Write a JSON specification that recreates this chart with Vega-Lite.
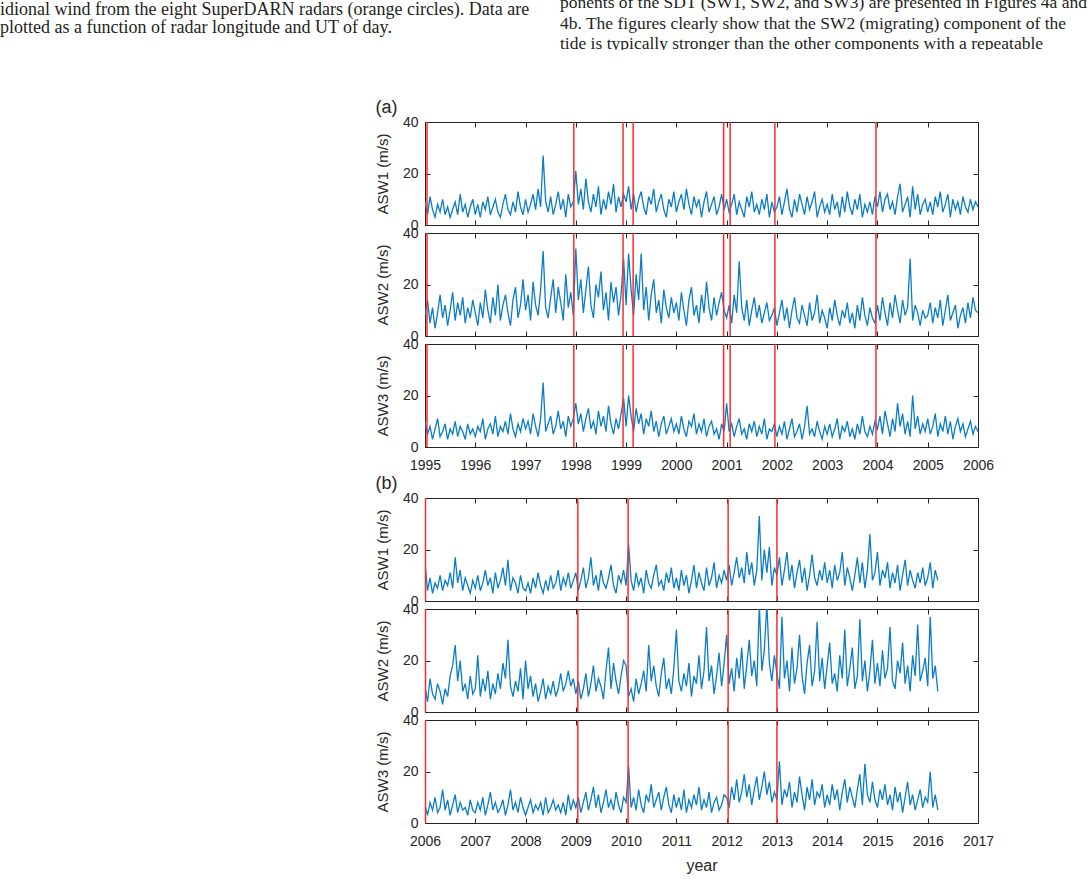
{"$schema":"https://vega.github.io/schema/vega-lite/v6.json","background":"white","padding":0,
"datasets":{
"RA":[{"t":1995.04},{"t":1997.96},{"t":1998.94},{"t":1999.14},{"t":2000.94},{"t":2001.07},{"t":2001.96},{"t":2003.97}],
"RB":[{"t":2006.01},{"t":2009.04},{"t":2010.04},{"t":2012.03},{"t":2013.0}],
"A":[
{"t":1995,"s1":9,"s2":8,"s3":10},{"t":1995.05,"s1":4,"s2":14,"s3":5},{"t":1995.1,"s1":11,"s2":5,"s3":8},{"t":1995.15,"s1":6,"s2":11,"s3":3},{"t":1995.2,"s1":3,"s2":3,"s3":7},{"t":1995.25,"s1":8,"s2":9,"s3":11},{"t":1995.3,"s1":5,"s2":16,"s3":4},{"t":1995.35,"s1":10,"s2":7,"s3":6},{"t":1995.4,"s1":4,"s2":12,"s3":9},{"t":1995.45,"s1":7,"s2":4,"s3":3},{"t":1995.5,"s1":3,"s2":10,"s3":7},{"t":1995.55,"s1":6,"s2":17,"s3":5},{"t":1995.6,"s1":9,"s2":6,"s3":10},{"t":1995.65,"s1":4,"s2":13,"s3":4},{"t":1995.7,"s1":12,"s2":8,"s3":8},{"t":1995.75,"s1":5,"s2":15,"s3":6},{"t":1995.8,"s1":8,"s2":5,"s3":3},{"t":1995.85,"s1":3,"s2":11,"s3":9},{"t":1995.9,"s1":7,"s2":7,"s3":5},{"t":1995.95,"s1":10,"s2":14,"s3":7},
{"t":1996,"s1":4,"s2":9,"s3":4},{"t":1996.05,"s1":8,"s2":4,"s3":8},{"t":1996.1,"s1":3,"s2":13,"s3":6},{"t":1996.15,"s1":9,"s2":7,"s3":11},{"t":1996.2,"s1":6,"s2":18,"s3":3},{"t":1996.25,"s1":11,"s2":10,"s3":7},{"t":1996.3,"s1":4,"s2":5,"s3":9},{"t":1996.35,"s1":7,"s2":15,"s3":5},{"t":1996.4,"s1":10,"s2":8,"s3":12},{"t":1996.45,"s1":5,"s2":20,"s3":4},{"t":1996.5,"s1":3,"s2":6,"s3":8},{"t":1996.55,"s1":8,"s2":12,"s3":6},{"t":1996.6,"s1":12,"s2":16,"s3":10},{"t":1996.65,"s1":6,"s2":9,"s3":5},{"t":1996.7,"s1":4,"s2":4,"s3":13},{"t":1996.75,"s1":9,"s2":14,"s3":7},{"t":1996.8,"s1":5,"s2":19,"s3":4},{"t":1996.85,"s1":13,"s2":7,"s3":9},{"t":1996.9,"s1":7,"s2":12,"s3":6},{"t":1996.95,"s1":4,"s2":22,"s3":11},
{"t":1997,"s1":10,"s2":10,"s3":7},{"t":1997.05,"s1":5,"s2":16,"s3":10},{"t":1997.1,"s1":8,"s2":6,"s3":5},{"t":1997.15,"s1":12,"s2":21,"s3":13},{"t":1997.2,"s1":6,"s2":12,"s3":8},{"t":1997.25,"s1":14,"s2":8,"s3":4},{"t":1997.3,"s1":7,"s2":18,"s3":11},{"t":1997.35,"s1":27,"s2":33,"s3":25},{"t":1997.4,"s1":9,"s2":11,"s3":6},{"t":1997.45,"s1":5,"s2":7,"s3":9},{"t":1997.5,"s1":11,"s2":15,"s3":12},{"t":1997.55,"s1":4,"s2":22,"s3":5},{"t":1997.6,"s1":8,"s2":9,"s3":8},{"t":1997.65,"s1":13,"s2":19,"s3":14},{"t":1997.7,"s1":6,"s2":13,"s3":7},{"t":1997.75,"s1":10,"s2":6,"s3":10},{"t":1997.8,"s1":3,"s2":24,"s3":4},{"t":1997.85,"s1":12,"s2":11,"s3":12},{"t":1997.9,"s1":7,"s2":17,"s3":8},{"t":1997.95,"s1":9,"s2":8,"s3":11},
{"t":1998,"s1":21,"s2":34,"s3":17},{"t":1998.05,"s1":8,"s2":14,"s3":9},{"t":1998.1,"s1":14,"s2":22,"s3":13},{"t":1998.15,"s1":6,"s2":9,"s3":6},{"t":1998.2,"s1":18,"s2":18,"s3":11},{"t":1998.25,"s1":9,"s2":27,"s3":15},{"t":1998.3,"s1":5,"s2":12,"s3":7},{"t":1998.35,"s1":12,"s2":7,"s3":10},{"t":1998.4,"s1":7,"s2":20,"s3":5},{"t":1998.45,"s1":15,"s2":15,"s3":14},{"t":1998.5,"s1":4,"s2":25,"s3":8},{"t":1998.55,"s1":10,"s2":10,"s3":12},{"t":1998.6,"s1":6,"s2":17,"s3":6},{"t":1998.65,"s1":13,"s2":6,"s3":16},{"t":1998.7,"s1":8,"s2":21,"s3":9},{"t":1998.75,"s1":16,"s2":13,"s3":5},{"t":1998.8,"s1":5,"s2":19,"s3":11},{"t":1998.85,"s1":11,"s2":8,"s3":7},{"t":1998.9,"s1":7,"s2":16,"s3":13},{"t":1998.95,"s1":12,"s2":30,"s3":19},
{"t":1999,"s1":9,"s2":12,"s3":8},{"t":1999.05,"s1":15,"s2":32,"s3":20},{"t":1999.1,"s1":6,"s2":18,"s3":12},{"t":1999.15,"s1":12,"s2":8,"s3":6},{"t":1999.2,"s1":5,"s2":24,"s3":15},{"t":1999.25,"s1":10,"s2":14,"s3":9},{"t":1999.3,"s1":13,"s2":32,"s3":13},{"t":1999.35,"s1":7,"s2":10,"s3":5},{"t":1999.4,"s1":4,"s2":19,"s3":11},{"t":1999.45,"s1":11,"s2":6,"s3":8},{"t":1999.5,"s1":8,"s2":16,"s3":14},{"t":1999.55,"s1":14,"s2":22,"s3":6},{"t":1999.6,"s1":5,"s2":9,"s3":10},{"t":1999.65,"s1":9,"s2":14,"s3":4},{"t":1999.7,"s1":12,"s2":5,"s3":9},{"t":1999.75,"s1":6,"s2":18,"s3":12},{"t":1999.8,"s1":3,"s2":11,"s3":5},{"t":1999.85,"s1":10,"s2":7,"s3":8},{"t":1999.9,"s1":7,"s2":15,"s3":11},{"t":1999.95,"s1":13,"s2":9,"s3":6},
{"t":2000,"s1":5,"s2":13,"s3":9},{"t":2000.05,"s1":9,"s2":6,"s3":5},{"t":2000.1,"s1":12,"s2":17,"s3":12},{"t":2000.15,"s1":6,"s2":10,"s3":7},{"t":2000.2,"s1":14,"s2":4,"s3":4},{"t":2000.25,"s1":8,"s2":14,"s3":10},{"t":2000.3,"s1":4,"s2":19,"s3":8},{"t":2000.35,"s1":11,"s2":8,"s3":13},{"t":2000.4,"s1":7,"s2":12,"s3":5},{"t":2000.45,"s1":10,"s2":5,"s3":9},{"t":2000.5,"s1":3,"s2":16,"s3":6},{"t":2000.55,"s1":9,"s2":9,"s3":11},{"t":2000.6,"s1":13,"s2":21,"s3":4},{"t":2000.65,"s1":5,"s2":11,"s3":8},{"t":2000.7,"s1":8,"s2":6,"s3":10},{"t":2000.75,"s1":11,"s2":15,"s3":5},{"t":2000.8,"s1":4,"s2":8,"s3":7},{"t":2000.85,"s1":7,"s2":13,"s3":3},{"t":2000.9,"s1":12,"s2":17,"s3":9},{"t":2000.95,"s1":6,"s2":10,"s3":6},
{"t":2001,"s1":10,"s2":7,"s3":17},{"t":2001.05,"s1":5,"s2":12,"s3":6},{"t":2001.1,"s1":8,"s2":5,"s3":9},{"t":2001.15,"s1":12,"s2":16,"s3":4},{"t":2001.2,"s1":4,"s2":9,"s3":8},{"t":2001.25,"s1":9,"s2":29,"s3":11},{"t":2001.3,"s1":6,"s2":11,"s3":5},{"t":2001.35,"s1":3,"s2":6,"s3":7},{"t":2001.4,"s1":11,"s2":14,"s3":3},{"t":2001.45,"s1":7,"s2":4,"s3":9},{"t":2001.5,"s1":13,"s2":10,"s3":6},{"t":2001.55,"s1":5,"s2":15,"s3":10},{"t":2001.6,"s1":8,"s2":7,"s3":4},{"t":2001.65,"s1":4,"s2":12,"s3":8},{"t":2001.7,"s1":10,"s2":5,"s3":5},{"t":2001.75,"s1":6,"s2":9,"s3":11},{"t":2001.8,"s1":12,"s2":13,"s3":3},{"t":2001.85,"s1":3,"s2":6,"s3":7},{"t":2001.9,"s1":9,"s2":8,"s3":6},{"t":2001.95,"s1":5,"s2":11,"s3":9},
{"t":2002,"s1":7,"s2":4,"s3":4},{"t":2002.05,"s1":11,"s2":9,"s3":8},{"t":2002.1,"s1":4,"s2":14,"s3":5},{"t":2002.15,"s1":9,"s2":6,"s3":10},{"t":2002.2,"s1":14,"s2":11,"s3":3},{"t":2002.25,"s1":6,"s2":3,"s3":7},{"t":2002.3,"s1":3,"s2":10,"s3":11},{"t":2002.35,"s1":10,"s2":15,"s3":4},{"t":2002.4,"s1":5,"s2":7,"s3":6},{"t":2002.45,"s1":12,"s2":5,"s3":9},{"t":2002.5,"s1":8,"s2":12,"s3":3},{"t":2002.55,"s1":4,"s2":8,"s3":8},{"t":2002.6,"s1":11,"s2":4,"s3":16},{"t":2002.65,"s1":6,"s2":13,"s3":5},{"t":2002.7,"s1":9,"s2":6,"s3":7},{"t":2002.75,"s1":13,"s2":9,"s3":4},{"t":2002.8,"s1":3,"s2":16,"s3":10},{"t":2002.85,"s1":7,"s2":5,"s3":6},{"t":2002.9,"s1":10,"s2":10,"s3":3},{"t":2002.95,"s1":5,"s2":7,"s3":8},
{"t":2003,"s1":8,"s2":3,"s3":5},{"t":2003.05,"s1":4,"s2":11,"s3":9},{"t":2003.1,"s1":12,"s2":6,"s3":4},{"t":2003.15,"s1":6,"s2":14,"s3":7},{"t":2003.2,"s1":9,"s2":8,"s3":11},{"t":2003.25,"s1":3,"s2":4,"s3":3},{"t":2003.3,"s1":11,"s2":10,"s3":8},{"t":2003.35,"s1":5,"s2":7,"s3":6},{"t":2003.4,"s1":13,"s2":13,"s3":10},{"t":2003.45,"s1":7,"s2":5,"s3":4},{"t":2003.5,"s1":4,"s2":9,"s3":7},{"t":2003.55,"s1":10,"s2":3,"s3":3},{"t":2003.6,"s1":6,"s2":12,"s3":9},{"t":2003.65,"s1":12,"s2":6,"s3":5},{"t":2003.7,"s1":3,"s2":15,"s3":12},{"t":2003.75,"s1":8,"s2":8,"s3":6},{"t":2003.8,"s1":5,"s2":4,"s3":4},{"t":2003.85,"s1":9,"s2":11,"s3":8},{"t":2003.9,"s1":4,"s2":7,"s3":5},{"t":2003.95,"s1":11,"s2":5,"s3":10},
{"t":2004,"s1":7,"s2":12,"s3":7},{"t":2004.05,"s1":13,"s2":6,"s3":12},{"t":2004.1,"s1":5,"s2":15,"s3":5},{"t":2004.15,"s1":10,"s2":9,"s3":14},{"t":2004.2,"s1":12,"s2":4,"s3":9},{"t":2004.25,"s1":6,"s2":13,"s3":4},{"t":2004.3,"s1":9,"s2":7,"s3":11},{"t":2004.35,"s1":4,"s2":16,"s3":6},{"t":2004.4,"s1":11,"s2":10,"s3":17},{"t":2004.45,"s1":16,"s2":5,"s3":8},{"t":2004.5,"s1":5,"s2":14,"s3":13},{"t":2004.55,"s1":8,"s2":8,"s3":5},{"t":2004.6,"s1":11,"s2":11,"s3":10},{"t":2004.65,"s1":3,"s2":30,"s3":4},{"t":2004.7,"s1":15,"s2":6,"s3":20},{"t":2004.75,"s1":6,"s2":12,"s3":7},{"t":2004.8,"s1":12,"s2":9,"s3":12},{"t":2004.85,"s1":4,"s2":4,"s3":5},{"t":2004.9,"s1":8,"s2":10,"s3":9},{"t":2004.95,"s1":10,"s2":7,"s3":6},
{"t":2005,"s1":5,"s2":8,"s3":11},{"t":2005.05,"s1":9,"s2":13,"s3":5},{"t":2005.1,"s1":4,"s2":5,"s3":8},{"t":2005.15,"s1":11,"s2":11,"s3":13},{"t":2005.2,"s1":7,"s2":7,"s3":4},{"t":2005.25,"s1":13,"s2":14,"s3":9},{"t":2005.3,"s1":5,"s2":4,"s3":6},{"t":2005.35,"s1":8,"s2":10,"s3":12},{"t":2005.4,"s1":12,"s2":16,"s3":5},{"t":2005.45,"s1":3,"s2":6,"s3":10},{"t":2005.5,"s1":10,"s2":9,"s3":3},{"t":2005.55,"s1":6,"s2":12,"s3":8},{"t":2005.6,"s1":9,"s2":3,"s3":11},{"t":2005.65,"s1":4,"s2":8,"s3":6},{"t":2005.7,"s1":11,"s2":11,"s3":9},{"t":2005.75,"s1":7,"s2":5,"s3":4},{"t":2005.8,"s1":5,"s2":13,"s3":7},{"t":2005.85,"s1":10,"s2":7,"s3":10},{"t":2005.9,"s1":6,"s2":15,"s3":5},{"t":2005.95,"s1":9,"s2":10,"s3":8},{"t":2006,"s1":7,"s2":9,"s3":6}],
"B":[
{"t":2006,"s1":15,"s2":10,"s3":7},{"t":2006.05,"s1":4,"s2":4,"s3":3},{"t":2006.1,"s1":9,"s2":13,"s3":8},{"t":2006.15,"s1":3,"s2":7,"s3":5},{"t":2006.2,"s1":7,"s2":5,"s3":10},{"t":2006.25,"s1":5,"s2":11,"s3":4},{"t":2006.3,"s1":10,"s2":8,"s3":6},{"t":2006.35,"s1":4,"s2":3,"s3":13},{"t":2006.4,"s1":8,"s2":9,"s3":5},{"t":2006.45,"s1":6,"s2":6,"s3":9},{"t":2006.5,"s1":11,"s2":14,"s3":3},{"t":2006.55,"s1":5,"s2":18,"s3":7},{"t":2006.6,"s1":17,"s2":26,"s3":11},{"t":2006.65,"s1":7,"s2":12,"s3":4},{"t":2006.7,"s1":12,"s2":20,"s3":8},{"t":2006.75,"s1":4,"s2":8,"s3":5},{"t":2006.8,"s1":9,"s2":11,"s3":6},{"t":2006.85,"s1":6,"s2":5,"s3":3},{"t":2006.9,"s1":3,"s2":14,"s3":9},{"t":2006.95,"s1":8,"s2":7,"s3":5},
{"t":2007,"s1":5,"s2":9,"s3":4},{"t":2007.05,"s1":10,"s2":22,"s3":8},{"t":2007.1,"s1":4,"s2":6,"s3":5},{"t":2007.15,"s1":7,"s2":13,"s3":10},{"t":2007.2,"s1":12,"s2":8,"s3":3},{"t":2007.25,"s1":6,"s2":16,"s3":7},{"t":2007.3,"s1":9,"s2":5,"s3":12},{"t":2007.35,"s1":3,"s2":11,"s3":5},{"t":2007.4,"s1":11,"s2":7,"s3":8},{"t":2007.45,"s1":5,"s2":15,"s3":4},{"t":2007.5,"s1":8,"s2":9,"s3":6},{"t":2007.55,"s1":13,"s2":19,"s3":9},{"t":2007.6,"s1":6,"s2":13,"s3":3},{"t":2007.65,"s1":16,"s2":28,"s3":7},{"t":2007.7,"s1":4,"s2":10,"s3":13},{"t":2007.75,"s1":9,"s2":6,"s3":5},{"t":2007.8,"s1":7,"s2":12,"s3":8},{"t":2007.85,"s1":3,"s2":8,"s3":4},{"t":2007.9,"s1":10,"s2":17,"s3":10},{"t":2007.95,"s1":5,"s2":5,"s3":6},
{"t":2008,"s1":4,"s2":20,"s3":3},{"t":2008.05,"s1":7,"s2":9,"s3":6},{"t":2008.1,"s1":3,"s2":14,"s3":9},{"t":2008.15,"s1":9,"s2":6,"s3":4},{"t":2008.2,"s1":5,"s2":11,"s3":7},{"t":2008.25,"s1":11,"s2":4,"s3":5},{"t":2008.3,"s1":6,"s2":8,"s3":8},{"t":2008.35,"s1":3,"s2":13,"s3":3},{"t":2008.4,"s1":8,"s2":5,"s3":10},{"t":2008.45,"s1":4,"s2":10,"s3":4},{"t":2008.5,"s1":10,"s2":7,"s3":6},{"t":2008.55,"s1":5,"s2":12,"s3":9},{"t":2008.6,"s1":7,"s2":6,"s3":5},{"t":2008.65,"s1":12,"s2":9,"s3":7},{"t":2008.7,"s1":4,"s2":15,"s3":4},{"t":2008.75,"s1":9,"s2":8,"s3":8},{"t":2008.8,"s1":6,"s2":11,"s3":3},{"t":2008.85,"s1":11,"s2":16,"s3":11},{"t":2008.9,"s1":5,"s2":10,"s3":5},{"t":2008.95,"s1":8,"s2":13,"s3":9},
{"t":2009,"s1":11,"s2":7,"s3":6},{"t":2009.05,"s1":4,"s2":12,"s3":10},{"t":2009.1,"s1":8,"s2":5,"s3":4},{"t":2009.15,"s1":13,"s2":9,"s3":8},{"t":2009.2,"s1":5,"s2":15,"s3":12},{"t":2009.25,"s1":9,"s2":6,"s3":5},{"t":2009.3,"s1":17,"s2":11,"s3":9},{"t":2009.35,"s1":6,"s2":18,"s3":14},{"t":2009.4,"s1":10,"s2":8,"s3":6},{"t":2009.45,"s1":4,"s2":13,"s3":11},{"t":2009.5,"s1":12,"s2":10,"s3":4},{"t":2009.55,"s1":7,"s2":5,"s3":8},{"t":2009.6,"s1":5,"s2":16,"s3":13},{"t":2009.65,"s1":9,"s2":25,"s3":6},{"t":2009.7,"s1":14,"s2":9,"s3":9},{"t":2009.75,"s1":6,"s2":19,"s3":5},{"t":2009.8,"s1":3,"s2":12,"s3":12},{"t":2009.85,"s1":10,"s2":7,"s3":7},{"t":2009.9,"s1":7,"s2":14,"s3":4},{"t":2009.95,"s1":12,"s2":20,"s3":10},
{"t":2010,"s1":6,"s2":18,"s3":8},{"t":2010.05,"s1":22,"s2":6,"s3":22},{"t":2010.1,"s1":8,"s2":9,"s3":6},{"t":2010.15,"s1":4,"s2":4,"s3":10},{"t":2010.2,"s1":11,"s2":13,"s3":5},{"t":2010.25,"s1":6,"s2":7,"s3":13},{"t":2010.3,"s1":9,"s2":11,"s3":7},{"t":2010.35,"s1":3,"s2":16,"s3":4},{"t":2010.4,"s1":12,"s2":8,"s3":11},{"t":2010.45,"s1":7,"s2":26,"s3":8},{"t":2010.5,"s1":5,"s2":12,"s3":15},{"t":2010.55,"s1":10,"s2":18,"s3":6},{"t":2010.6,"s1":14,"s2":10,"s3":9},{"t":2010.65,"s1":6,"s2":6,"s3":12},{"t":2010.7,"s1":8,"s2":15,"s3":5},{"t":2010.75,"s1":4,"s2":21,"s3":10},{"t":2010.8,"s1":11,"s2":9,"s3":14},{"t":2010.85,"s1":7,"s2":13,"s3":7},{"t":2010.9,"s1":13,"s2":7,"s3":4},{"t":2010.95,"s1":5,"s2":17,"s3":11},
{"t":2011,"s1":9,"s2":32,"s3":6},{"t":2011.05,"s1":4,"s2":12,"s3":10},{"t":2011.1,"s1":12,"s2":8,"s3":5},{"t":2011.15,"s1":6,"s2":15,"s3":13},{"t":2011.2,"s1":10,"s2":10,"s3":4},{"t":2011.25,"s1":3,"s2":19,"s3":9},{"t":2011.3,"s1":8,"s2":6,"s3":6},{"t":2011.35,"s1":14,"s2":14,"s3":11},{"t":2011.4,"s1":5,"s2":11,"s3":7},{"t":2011.45,"s1":11,"s2":22,"s3":14},{"t":2011.5,"s1":7,"s2":9,"s3":5},{"t":2011.55,"s1":4,"s2":16,"s3":9},{"t":2011.6,"s1":13,"s2":33,"s3":6},{"t":2011.65,"s1":6,"s2":12,"s3":12},{"t":2011.7,"s1":9,"s2":18,"s3":4},{"t":2011.75,"s1":15,"s2":7,"s3":8},{"t":2011.8,"s1":5,"s2":14,"s3":10},{"t":2011.85,"s1":10,"s2":23,"s3":5},{"t":2011.9,"s1":7,"s2":10,"s3":7},{"t":2011.95,"s1":12,"s2":19,"s3":11},
{"t":2012,"s1":8,"s2":30,"s3":10},{"t":2012.05,"s1":14,"s2":11,"s3":6},{"t":2012.1,"s1":6,"s2":17,"s3":14},{"t":2012.15,"s1":11,"s2":8,"s3":9},{"t":2012.2,"s1":17,"s2":21,"s3":17},{"t":2012.25,"s1":9,"s2":13,"s3":8},{"t":2012.3,"s1":13,"s2":25,"s3":12},{"t":2012.35,"s1":7,"s2":9,"s3":19},{"t":2012.4,"s1":19,"s2":18,"s3":10},{"t":2012.45,"s1":10,"s2":28,"s3":15},{"t":2012.5,"s1":15,"s2":14,"s3":7},{"t":2012.55,"s1":6,"s2":20,"s3":13},{"t":2012.6,"s1":12,"s2":10,"s3":18},{"t":2012.65,"s1":33,"s2":42,"s3":9},{"t":2012.7,"s1":8,"s2":16,"s3":14},{"t":2012.75,"s1":20,"s2":24,"s3":20},{"t":2012.8,"s1":11,"s2":42,"s3":11},{"t":2012.85,"s1":21,"s2":19,"s3":16},{"t":2012.9,"s1":6,"s2":12,"s3":8},{"t":2012.95,"s1":13,"s2":22,"s3":12},
{"t":2013,"s1":10,"s2":15,"s3":9},{"t":2013.05,"s1":17,"s2":9,"s3":24},{"t":2013.1,"s1":6,"s2":37,"s3":7},{"t":2013.15,"s1":12,"s2":13,"s3":13},{"t":2013.2,"s1":19,"s2":20,"s3":10},{"t":2013.25,"s1":8,"s2":8,"s3":16},{"t":2013.3,"s1":14,"s2":25,"s3":6},{"t":2013.35,"s1":5,"s2":11,"s3":12},{"t":2013.4,"s1":11,"s2":17,"s3":8},{"t":2013.45,"s1":16,"s2":30,"s3":18},{"t":2013.5,"s1":7,"s2":14,"s3":11},{"t":2013.55,"s1":13,"s2":7,"s3":5},{"t":2013.6,"s1":4,"s2":19,"s3":14},{"t":2013.65,"s1":10,"s2":26,"s3":9},{"t":2013.7,"s1":18,"s2":10,"s3":17},{"t":2013.75,"s1":9,"s2":16,"s3":7},{"t":2013.8,"s1":6,"s2":35,"s3":12},{"t":2013.85,"s1":12,"s2":12,"s3":10},{"t":2013.9,"s1":8,"s2":21,"s3":15},{"t":2013.95,"s1":15,"s2":9,"s3":6},
{"t":2014,"s1":7,"s2":18,"s3":11},{"t":2014.05,"s1":12,"s2":27,"s3":7},{"t":2014.1,"s1":5,"s2":11,"s3":15},{"t":2014.15,"s1":14,"s2":15,"s3":9},{"t":2014.2,"s1":8,"s2":8,"s3":13},{"t":2014.25,"s1":11,"s2":22,"s3":5},{"t":2014.3,"s1":19,"s2":13,"s3":12},{"t":2014.35,"s1":6,"s2":32,"s3":17},{"t":2014.4,"s1":13,"s2":10,"s3":8},{"t":2014.45,"s1":9,"s2":17,"s3":14},{"t":2014.5,"s1":4,"s2":25,"s3":10},{"t":2014.55,"s1":10,"s2":9,"s3":6},{"t":2014.6,"s1":17,"s2":14,"s3":13},{"t":2014.65,"s1":7,"s2":36,"s3":19},{"t":2014.7,"s1":15,"s2":12,"s3":7},{"t":2014.75,"s1":5,"s2":20,"s3":23},{"t":2014.8,"s1":12,"s2":8,"s3":11},{"t":2014.85,"s1":26,"s2":16,"s3":8},{"t":2014.9,"s1":8,"s2":28,"s3":16},{"t":2014.95,"s1":11,"s2":11,"s3":9},
{"t":2015,"s1":19,"s2":19,"s3":6},{"t":2015.05,"s1":6,"s2":10,"s3":13},{"t":2015.1,"s1":12,"s2":24,"s3":9},{"t":2015.15,"s1":9,"s2":13,"s3":15},{"t":2015.2,"s1":15,"s2":17,"s3":7},{"t":2015.25,"s1":5,"s2":33,"s3":11},{"t":2015.3,"s1":11,"s2":12,"s3":5},{"t":2015.35,"s1":7,"s2":9,"s3":14},{"t":2015.4,"s1":14,"s2":20,"s3":8},{"t":2015.45,"s1":4,"s2":15,"s3":12},{"t":2015.5,"s1":10,"s2":27,"s3":4},{"t":2015.55,"s1":16,"s2":11,"s3":10},{"t":2015.6,"s1":6,"s2":18,"s3":16},{"t":2015.65,"s1":12,"s2":8,"s3":7},{"t":2015.7,"s1":8,"s2":22,"s3":11},{"t":2015.75,"s1":5,"s2":14,"s3":5},{"t":2015.8,"s1":11,"s2":34,"s3":9},{"t":2015.85,"s1":7,"s2":12,"s3":13},{"t":2015.9,"s1":13,"s2":16,"s3":6},{"t":2015.95,"s1":6,"s2":21,"s3":10},
{"t":2016,"s1":9,"s2":10,"s3":8},{"t":2016.05,"s1":15,"s2":37,"s3":20},{"t":2016.1,"s1":5,"s2":13,"s3":6},{"t":2016.15,"s1":12,"s2":18,"s3":11},{"t":2016.2,"s1":8,"s2":8,"s3":5}]
},
"vconcat":[
{"hconcat":[
{"width":545,"height":50,"view":{"stroke":null,"fill":"white"},
"data":{"values":[{"i":1,"txt":"idional wind from the eight SuperDARN radars (orange circles). Data are"},{"i":2,"txt":"plotted as a function of radar longitude and UT of day."}]},
"mark":{"type":"text","align":"left","baseline":"middle","font":"Liberation Serif","fontSize":18,"color":"#231f20","clip":true},
"encoding":{"x":{"value":0},"y":{"field":"i","type":"ordinal","axis":null,"scale":{"type":"point","range":[10,28],"padding":0}},"text":{"field":"txt"}}},
{"width":532,"height":50,"view":{"stroke":null,"fill":"white"},
"data":{"values":[{"i":1,"txt":"ponents of the SDT (SW1, SW2, and SW3) are presented in Figures 4a and"},{"i":2,"txt":"4b. The figures clearly show that the SW2 (migrating) component of the"},{"i":3,"txt":"tide is typically stronger than the other components with a repeatable"}]},
"mark":{"type":"text","align":"left","baseline":"middle","font":"Liberation Serif","fontSize":17.5,"color":"#231f20","clip":true},
"encoding":{"x":{"value":0},"y":{"field":"i","type":"ordinal","axis":null,"scale":{"type":"point","range":[3,44],"padding":0}},"text":{"field":"txt"}}}
],"spacing":15},
{"hconcat":[
{"width":374,"height":1,"view":{"stroke":null,"fill":"white"},"data":{"values":[]},"mark":"point"},
{"vconcat":[
{"vconcat":[
{"width":553,"height":103,"title":{"text":"(a)","frame":"bounds","offset":-2},
"layer":[
{"data":{"name":"A"},"mark":{"type":"line","color":"#0b7dc6","strokeWidth":1.3,"clip":true},
"encoding":{"x":{"field":"t","type":"quantitative","scale":{"domain":[1995,2006],"nice":false,"zero":false},"axis":{"values":[1995,1996,1997,1998,1999,2000,2001,2002,2003,2004,2005,2006],"labels":false,"title":null}},
"y":{"field":"s1","type":"quantitative","scale":{"domain":[0,40],"nice":false},"axis":{"values":[0,20,40],"title":"ASW1 (m/s)"}}}},
{"data":{"name":"RA"},"mark":{"type":"rule","color":"#ff2b2b","strokeWidth":1.5},
"encoding":{"x":{"field":"t","type":"quantitative","axis":{"orient":"top","values":[1995,1996,1997,1998,1999,2000,2001,2002,2003,2004,2005,2006],"labels":false,"title":null}}}},
{"data":{"values":[{}]},"mark":{"type":"rule","strokeOpacity":0},
"encoding":{"y":{"datum":20,"type":"quantitative","axis":{"orient":"right","values":[0,20,40],"labels":false,"title":null}}}}
],"resolve":{"axis":{"x":"independent","y":"independent"}}},
{"width":553,"height":103,
"layer":[
{"data":{"name":"A"},"mark":{"type":"line","color":"#0b7dc6","strokeWidth":1.3,"clip":true},
"encoding":{"x":{"field":"t","type":"quantitative","scale":{"domain":[1995,2006],"nice":false,"zero":false},"axis":{"values":[1995,1996,1997,1998,1999,2000,2001,2002,2003,2004,2005,2006],"labels":false,"title":null}},
"y":{"field":"s2","type":"quantitative","scale":{"domain":[0,40],"nice":false},"axis":{"values":[0,20,40],"title":"ASW2 (m/s)"}}}},
{"data":{"name":"RA"},"mark":{"type":"rule","color":"#ff2b2b","strokeWidth":1.5},
"encoding":{"x":{"field":"t","type":"quantitative","axis":{"orient":"top","values":[1995,1996,1997,1998,1999,2000,2001,2002,2003,2004,2005,2006],"labels":false,"title":null}}}},
{"data":{"values":[{}]},"mark":{"type":"rule","strokeOpacity":0},
"encoding":{"y":{"datum":20,"type":"quantitative","axis":{"orient":"right","values":[0,20,40],"labels":false,"title":null}}}}
],"resolve":{"axis":{"x":"independent","y":"independent"}}},
{"width":553,"height":103,
"layer":[
{"data":{"name":"A"},"mark":{"type":"line","color":"#0b7dc6","strokeWidth":1.3,"clip":true},
"encoding":{"x":{"field":"t","type":"quantitative","scale":{"domain":[1995,2006],"nice":false,"zero":false},"axis":{"values":[1995,1996,1997,1998,1999,2000,2001,2002,2003,2004,2005,2006],"format":"d","labelPadding":16,"title":null}},
"y":{"field":"s3","type":"quantitative","scale":{"domain":[0,40],"nice":false},"axis":{"values":[0,20,40],"title":"ASW3 (m/s)"}}}},
{"data":{"name":"RA"},"mark":{"type":"rule","color":"#ff2b2b","strokeWidth":1.5},
"encoding":{"x":{"field":"t","type":"quantitative","axis":{"orient":"top","values":[1995,1996,1997,1998,1999,2000,2001,2002,2003,2004,2005,2006],"labels":false,"title":null}}}},
{"data":{"values":[{}]},"mark":{"type":"rule","strokeOpacity":0},
"encoding":{"y":{"datum":20,"type":"quantitative","axis":{"orient":"right","values":[0,20,40],"labels":false,"title":null}}}}
],"resolve":{"axis":{"x":"independent","y":"independent"}}}
],"spacing":8,"bounds":"flush"},
{"vconcat":[
{"width":553,"height":103,"title":{"text":"(b)","frame":"bounds","offset":-2},
"layer":[
{"data":{"name":"B"},"mark":{"type":"line","color":"#0b7dc6","strokeWidth":1.3,"clip":true},
"encoding":{"x":{"field":"t","type":"quantitative","scale":{"domain":[2006,2017],"nice":false,"zero":false},"axis":{"values":[2006,2007,2008,2009,2010,2011,2012,2013,2014,2015,2016,2017],"labels":false,"title":null}},
"y":{"field":"s1","type":"quantitative","scale":{"domain":[0,40],"nice":false},"axis":{"values":[0,20,40],"title":"ASW1 (m/s)"}}}},
{"data":{"name":"RB"},"mark":{"type":"rule","color":"#ff2b2b","strokeWidth":1.5},
"encoding":{"x":{"field":"t","type":"quantitative","axis":{"orient":"top","values":[2006,2007,2008,2009,2010,2011,2012,2013,2014,2015,2016,2017],"labels":false,"title":null}}}},
{"data":{"values":[{}]},"mark":{"type":"rule","strokeOpacity":0},
"encoding":{"y":{"datum":20,"type":"quantitative","axis":{"orient":"right","values":[0,20,40],"labels":false,"title":null}}}}
],"resolve":{"axis":{"x":"independent","y":"independent"}}},
{"width":553,"height":103,
"layer":[
{"data":{"name":"B"},"mark":{"type":"line","color":"#0b7dc6","strokeWidth":1.3,"clip":true},
"encoding":{"x":{"field":"t","type":"quantitative","scale":{"domain":[2006,2017],"nice":false,"zero":false},"axis":{"values":[2006,2007,2008,2009,2010,2011,2012,2013,2014,2015,2016,2017],"labels":false,"title":null}},
"y":{"field":"s2","type":"quantitative","scale":{"domain":[0,40],"nice":false},"axis":{"values":[0,20,40],"title":"ASW2 (m/s)"}}}},
{"data":{"name":"RB"},"mark":{"type":"rule","color":"#ff2b2b","strokeWidth":1.5},
"encoding":{"x":{"field":"t","type":"quantitative","axis":{"orient":"top","values":[2006,2007,2008,2009,2010,2011,2012,2013,2014,2015,2016,2017],"labels":false,"title":null}}}},
{"data":{"values":[{}]},"mark":{"type":"rule","strokeOpacity":0},
"encoding":{"y":{"datum":20,"type":"quantitative","axis":{"orient":"right","values":[0,20,40],"labels":false,"title":null}}}}
],"resolve":{"axis":{"x":"independent","y":"independent"}}},
{"width":553,"height":103,
"layer":[
{"data":{"name":"B"},"mark":{"type":"line","color":"#0b7dc6","strokeWidth":1.3,"clip":true},
"encoding":{"x":{"field":"t","type":"quantitative","scale":{"domain":[2006,2017],"nice":false,"zero":false},"axis":{"values":[2006,2007,2008,2009,2010,2011,2012,2013,2014,2015,2016,2017],"format":"d","labelPadding":16,"title":"year","titleFontSize":16,"titlePadding":9}},
"y":{"field":"s3","type":"quantitative","scale":{"domain":[0,40],"nice":false},"axis":{"values":[0,20,40],"title":"ASW3 (m/s)"}}}},
{"data":{"name":"RB"},"mark":{"type":"rule","color":"#ff2b2b","strokeWidth":1.5},
"encoding":{"x":{"field":"t","type":"quantitative","axis":{"orient":"top","values":[2006,2007,2008,2009,2010,2011,2012,2013,2014,2015,2016,2017],"labels":false,"title":null}}}},
{"data":{"values":[{}]},"mark":{"type":"rule","strokeOpacity":0},
"encoding":{"y":{"datum":20,"type":"quantitative","axis":{"orient":"right","values":[0,20,40],"labels":false,"title":null}}}}
],"resolve":{"axis":{"x":"independent","y":"independent"}}}
],"spacing":8,"bounds":"flush"}
],"spacing":1}
],"spacing":0}
],"spacing":48,
"config":{
"view":{"stroke":"#262626","strokeWidth":1},
"axis":{"grid":false,"domain":false,"tickSize":-5,"tickColor":"#262626","tickWidth":1,"labelColor":"#262626","titleColor":"#262626","labelFont":"Liberation Sans","titleFont":"Liberation Sans","labelFontSize":14,"titleFontSize":15,"titleFontWeight":"normal","labelPadding":12,"titlePadding":12,"labelFlush":false},
"title":{"font":"Liberation Sans","fontSize":18,"fontWeight":"normal","color":"#262626","anchor":"start"}
}}
